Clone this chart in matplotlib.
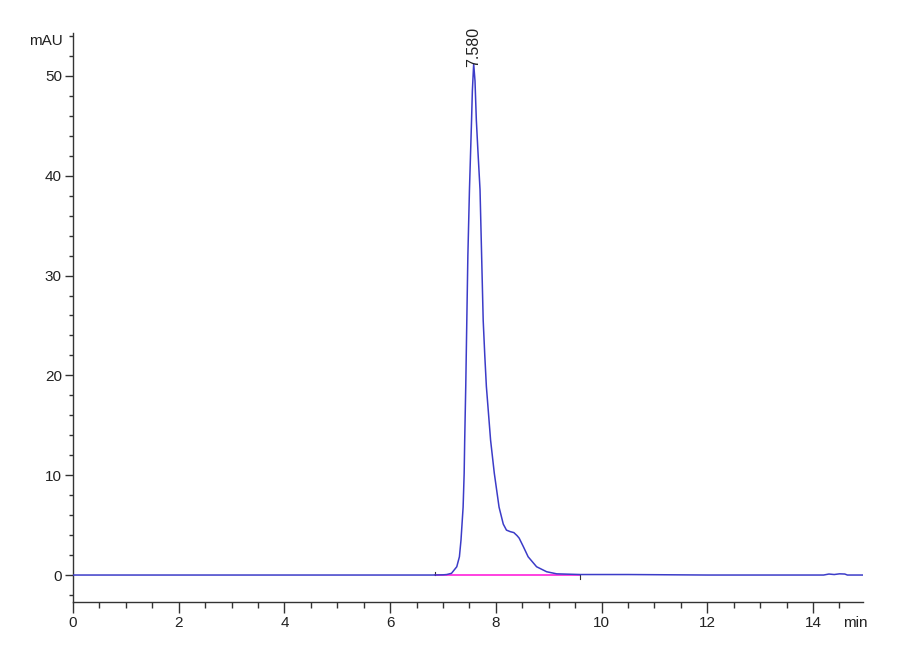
import matplotlib
matplotlib.use("Agg")
import matplotlib.pyplot as plt
from matplotlib.ticker import MultipleLocator

# Chromatogram trace (time in min, signal in mAU)
time_min = [0.0, 6.80, 7.00, 7.07, 7.16, 7.26, 7.31, 7.34, 7.38, 7.40, 7.41, 7.43,
            7.45, 7.47, 7.50, 7.54, 7.555, 7.58, 7.605, 7.63, 7.66, 7.70, 7.76, 7.79,
            7.82, 7.90, 7.97, 8.06, 8.14, 8.20, 8.27, 8.34, 8.40, 8.44, 8.52, 8.61,
            8.77, 8.96, 9.15, 9.60, 10.5, 12.0, 14.2, 14.3, 14.4, 14.5, 14.6, 14.65, 14.94]
signal_mau = [0.0, 0.0, 0.02, 0.05, 0.17, 0.83, 1.83, 3.5, 6.8, 10.2, 13.5, 18.9,
              25.5, 32.0, 38.6, 45.6, 48.5, 51.2, 49.5, 45.6, 42.5, 38.6, 25.5, 22.0,
              18.9, 13.5, 10.2, 6.8, 5.1, 4.5, 4.35, 4.25, 3.95, 3.7, 2.84, 1.83,
              0.83, 0.33, 0.12, 0.05, 0.05, 0.0, 0.0, 0.1, 0.05, 0.12, 0.1, 0.0, 0.0]

# Integration baseline
baseline_t = [6.85, 9.60]
baseline_y = [0.0, 0.0]

peak_rt = 7.580
peak_height = 51.2
peak_label = "7.580"

x_ticks = [0, 2, 4, 6, 8, 10, 12, 14]
y_ticks = [0, 10, 20, 30, 40, 50]

plt.rcParams['font.family'] = ['Liberation Sans Narrow', 'Liberation Sans', 'DejaVu Sans']

fig = plt.figure(figsize=(9, 6.6), dpi=100)
ax = fig.add_axes([0.0811, 0.0879, 0.8778, 0.8621])

axis_col = '#333333'
ax.plot(time_min, signal_mau, color='#3c3cc8', lw=1.1, zorder=3)
ax.plot(baseline_t, baseline_y, color='#ff33dd', lw=1.3, zorder=2)
# baseline start/end markers
ax.plot([baseline_t[0], baseline_t[0]], [0.0, 0.35], color=axis_col, lw=0.8)
ax.plot([baseline_t[1], baseline_t[1]], [0.0, -0.4], color=axis_col, lw=0.8)

ax.text(peak_rt, peak_height - 0.3, peak_label, rotation=90, ha='center', va='bottom',
        fontsize=11.5, color='#222222', clip_on=False)

ax.set_xlim(0, 14.945)
ax.set_ylim(-2.7, 54.3)
ax.set_xticks(x_ticks)
ax.set_yticks(y_ticks)
ax.xaxis.set_minor_locator(MultipleLocator(0.5))
ax.yaxis.set_minor_locator(MultipleLocator(2))

for s in ['top', 'right']:
    ax.spines[s].set_visible(False)
for s in ['left', 'bottom']:
    ax.spines[s].set_color(axis_col)
    ax.spines[s].set_linewidth(1.0)

ax.tick_params(axis='x', which='major', direction='out', length=8, width=1, colors=axis_col,
               labelsize=11, labelcolor='#222222', pad=2)
ax.tick_params(axis='x', which='minor', direction='out', length=4, width=1, colors=axis_col)
ax.tick_params(axis='y', which='major', direction='out', length=6, width=1, colors=axis_col,
               labelsize=11, labelcolor='#222222', pad=2)
ax.tick_params(axis='y', which='minor', direction='out', length=3, width=1, colors=axis_col)

fig.text(63 / 900, 1 - 41 / 660, 'mAU', ha='right', va='center', fontsize=11, color='#222222')
fig.text(855 / 900, 1 - 623 / 660, 'min', ha='center', va='center', fontsize=11, color='#222222')

fig.savefig('out.png', dpi=100)
